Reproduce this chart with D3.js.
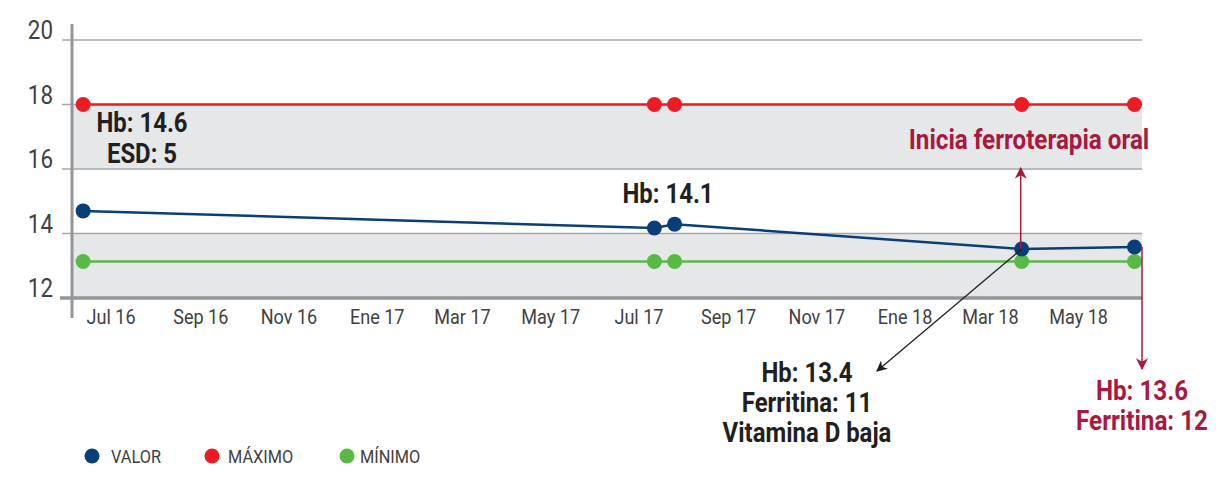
<!DOCTYPE html>
<html><head><meta charset="utf-8">
<script src="https://cdn.jsdelivr.net/npm/d3@7"></script>
<style>
html,body{margin:0;padding:0;background:#fff;}
svg text{font-family:"Roboto","Liberation Sans",sans-serif;}
</style></head>
<body>
<svg id="chart" width="1219" height="478"></svg>
<script>
// ---- data ----
const dates = ["2016-06-12","2017-07-12","2017-07-26","2018-03-23","2018-06-09"];
const valor = [14.7, 14.17, 14.29, 13.52, 13.58];
const maximo = [18, 18, 18, 18, 18];
const minimo = [13.13, 13.13, 13.13, 13.13, 13.13];
const yTicks = [12, 14, 16, 18, 20];
const xTickDates = ["2016-07-01","2016-09-01","2016-11-01","2017-01-01","2017-03-01","2017-05-01","2017-07-01","2017-09-01","2017-11-01","2018-01-01","2018-03-01","2018-05-01"];
const xTickLabels = ["Jul 16","Sep 16","Nov 16","Ene 17","Mar 17","May 17","Jul 17","Sep 17","Nov 17","Ene 18","Mar 18","May 18"];
const bands = [[16, 18], [12, 14]];
const seriesNames = ["VALOR", "MÁXIMO", "MÍNIMO"];

const SX = 0.86; // horizontal condense factor
const parse = d3.timeParse("%Y-%m-%d");
const svg = d3.select("#chart");
const x = d3.scaleTime().domain([parse("2016-06-05"), new Date(2018, 5, 13, 12)]).range([73, 1141]);
const y = d3.scaleLinear().domain([12, 20]).range([298, 40]);

const colors = {valor: "#0a3e78", max: "#ed1c24", min: "#58b947", grid: "#a7a9ac", axis: "#939598", band: "#e6e7e8", crimson: "#a9193f", text: "#231f20", label: "#414042"};

svg.append("defs").html(`
<marker id="arrK" viewBox="0 0 10 10" refX="9" refY="5" markerWidth="11" markerHeight="11" markerUnits="userSpaceOnUse" orient="auto"><path d="M0,0 L10,5 L0,10 L3,5 z" fill="${colors.text}"/></marker>
<marker id="arrC" viewBox="0 0 10 10" refX="9" refY="5" markerWidth="12" markerHeight="12" markerUnits="userSpaceOnUse" orient="auto"><path d="M0,0 L10,5 L0,10 L3,5 z" fill="${colors.crimson}"/></marker>`);

function ctext(px, py, anchor, size, color, weight, sx) {
  return svg.append("text").attr("transform", `translate(${px},${py}) scale(${sx || SX},1)`)
    .attr("text-anchor", anchor).attr("font-size", size).attr("fill", color)
    .attr("font-weight", weight || "normal");
}

const x0 = 73, x1 = 1142;
// bands
svg.selectAll("rect.band").data(bands).join("rect")
  .attr("x", x0).attr("width", x1 - x0)
  .attr("y", d => y(d[1])).attr("height", d => y(d[0]) - y(d[1]))
  .attr("fill", colors.band);
// grid lines
svg.selectAll("line.grid").data(yTicks.filter(t => t !== 12)).join("line")
  .attr("x1", 62).attr("x2", x1).attr("y1", d => y(d)).attr("y2", d => y(d))
  .attr("stroke", colors.grid).attr("stroke-width", 1.5);
// bottom axis line
svg.append("line").attr("x1", 60).attr("x2", x1).attr("y1", y(12)).attr("y2", y(12))
  .attr("stroke", colors.axis).attr("stroke-width", 3.5);
// left axis line
svg.append("line").attr("x1", 72).attr("x2", 72).attr("y1", 24).attr("y2", 318)
  .attr("stroke", colors.axis).attr("stroke-width", 3);
// y tick labels
yTicks.forEach(t => ctext(53, y(t) - 1, "end", 26, colors.label).text(t));
// x tick labels
const xAxis = d3.axisBottom(x).tickValues(xTickDates.map(parse)).tickSize(0)
  .tickFormat((d, i) => xTickLabels[i]);
const gx = svg.append("g").attr("transform", `translate(0,${y(12) + 8})`).call(xAxis);
gx.select(".domain").remove();
gx.selectAll("text").attr("font-size", 21).attr("fill", colors.label)
  .attr("font-family", '"Roboto",sans-serif').attr("dy", "0.71em")
  .attr("transform", `scale(${SX},1)`);

// series
const pts = dates.map((d, i) => ({date: parse(d), valor: valor[i], max: maximo[i], min: minimo[i]}));
const series = [["max", colors.max], ["min", colors.min], ["valor", colors.valor]];
series.forEach(([k, c]) => {
  svg.append("path").datum(pts)
    .attr("d", d3.line().x(d => x(d.date)).y(d => y(d[k])))
    .attr("fill", "none").attr("stroke", c).attr("stroke-width", 2.5);
  svg.selectAll(null).data(pts).join("circle")
    .attr("cx", d => x(d.date)).attr("cy", d => y(d[k])).attr("r", 7.5).attr("fill", c);
});

// annotations
function textBlock(lines, cx, y0, lh, color, size, sx) {
  const t = ctext(cx, y0, "middle", size, color, "bold", sx);
  lines.forEach((l, i) => t.append("tspan").attr("x", 0).attr("y", i * lh).text(l));
}
textBlock(["Hb: 14.6", "ESD: 5"], 142, 132, 31, colors.text, 27.5, 0.87);
textBlock(["Hb: 14.1"], 668, 203, 30, colors.text, 27.5, 0.87);
textBlock(["Inicia ferroterapia oral"], 1029, 149, 30, colors.crimson, 27.5, 0.88);
textBlock(["Hb: 13.4", "Ferritina: 11", "Vitamina D baja"], 807, 382, 30, colors.text, 27.5, 0.87);
textBlock(["Hb: 13.6", "Ferritina: 12"], 1142, 400, 30, colors.crimson, 27.5, 0.88);

const p3 = pts[3], p4 = pts[4];
// crimson up arrow from Mar 18 point
svg.append("line").attr("x1", x(p3.date) - 1).attr("x2", x(p3.date) - 1)
  .attr("y1", y(p3.valor)).attr("y2", 168)
  .attr("stroke", colors.crimson).attr("stroke-width", 1.5).attr("marker-end", "url(#arrC)");
// black arrow down-left
svg.append("line").attr("x1", x(p3.date)).attr("y1", y(p3.valor))
  .attr("x2", 877).attr("y2", 371)
  .attr("stroke", colors.text).attr("stroke-width", 1.3).attr("marker-end", "url(#arrK)");
// crimson down arrow from last point
svg.append("line").attr("x1", 1142).attr("x2", 1142)
  .attr("y1", y(p4.valor)).attr("y2", 369)
  .attr("stroke", colors.crimson).attr("stroke-width", 1.5).attr("marker-end", "url(#arrC)");

// legend
const legColors = [colors.valor, colors.max, colors.min];
const legX = [92, 212, 347];
const legTX = [111, 228, 360];
seriesNames.forEach((n, i) => {
  svg.append("circle").attr("cx", legX[i]).attr("cy", 456).attr("r", 7.5).attr("fill", legColors[i]);
  ctext(legTX[i], 463, "start", 19, colors.label).text(n);
});
</script>
</body></html>
